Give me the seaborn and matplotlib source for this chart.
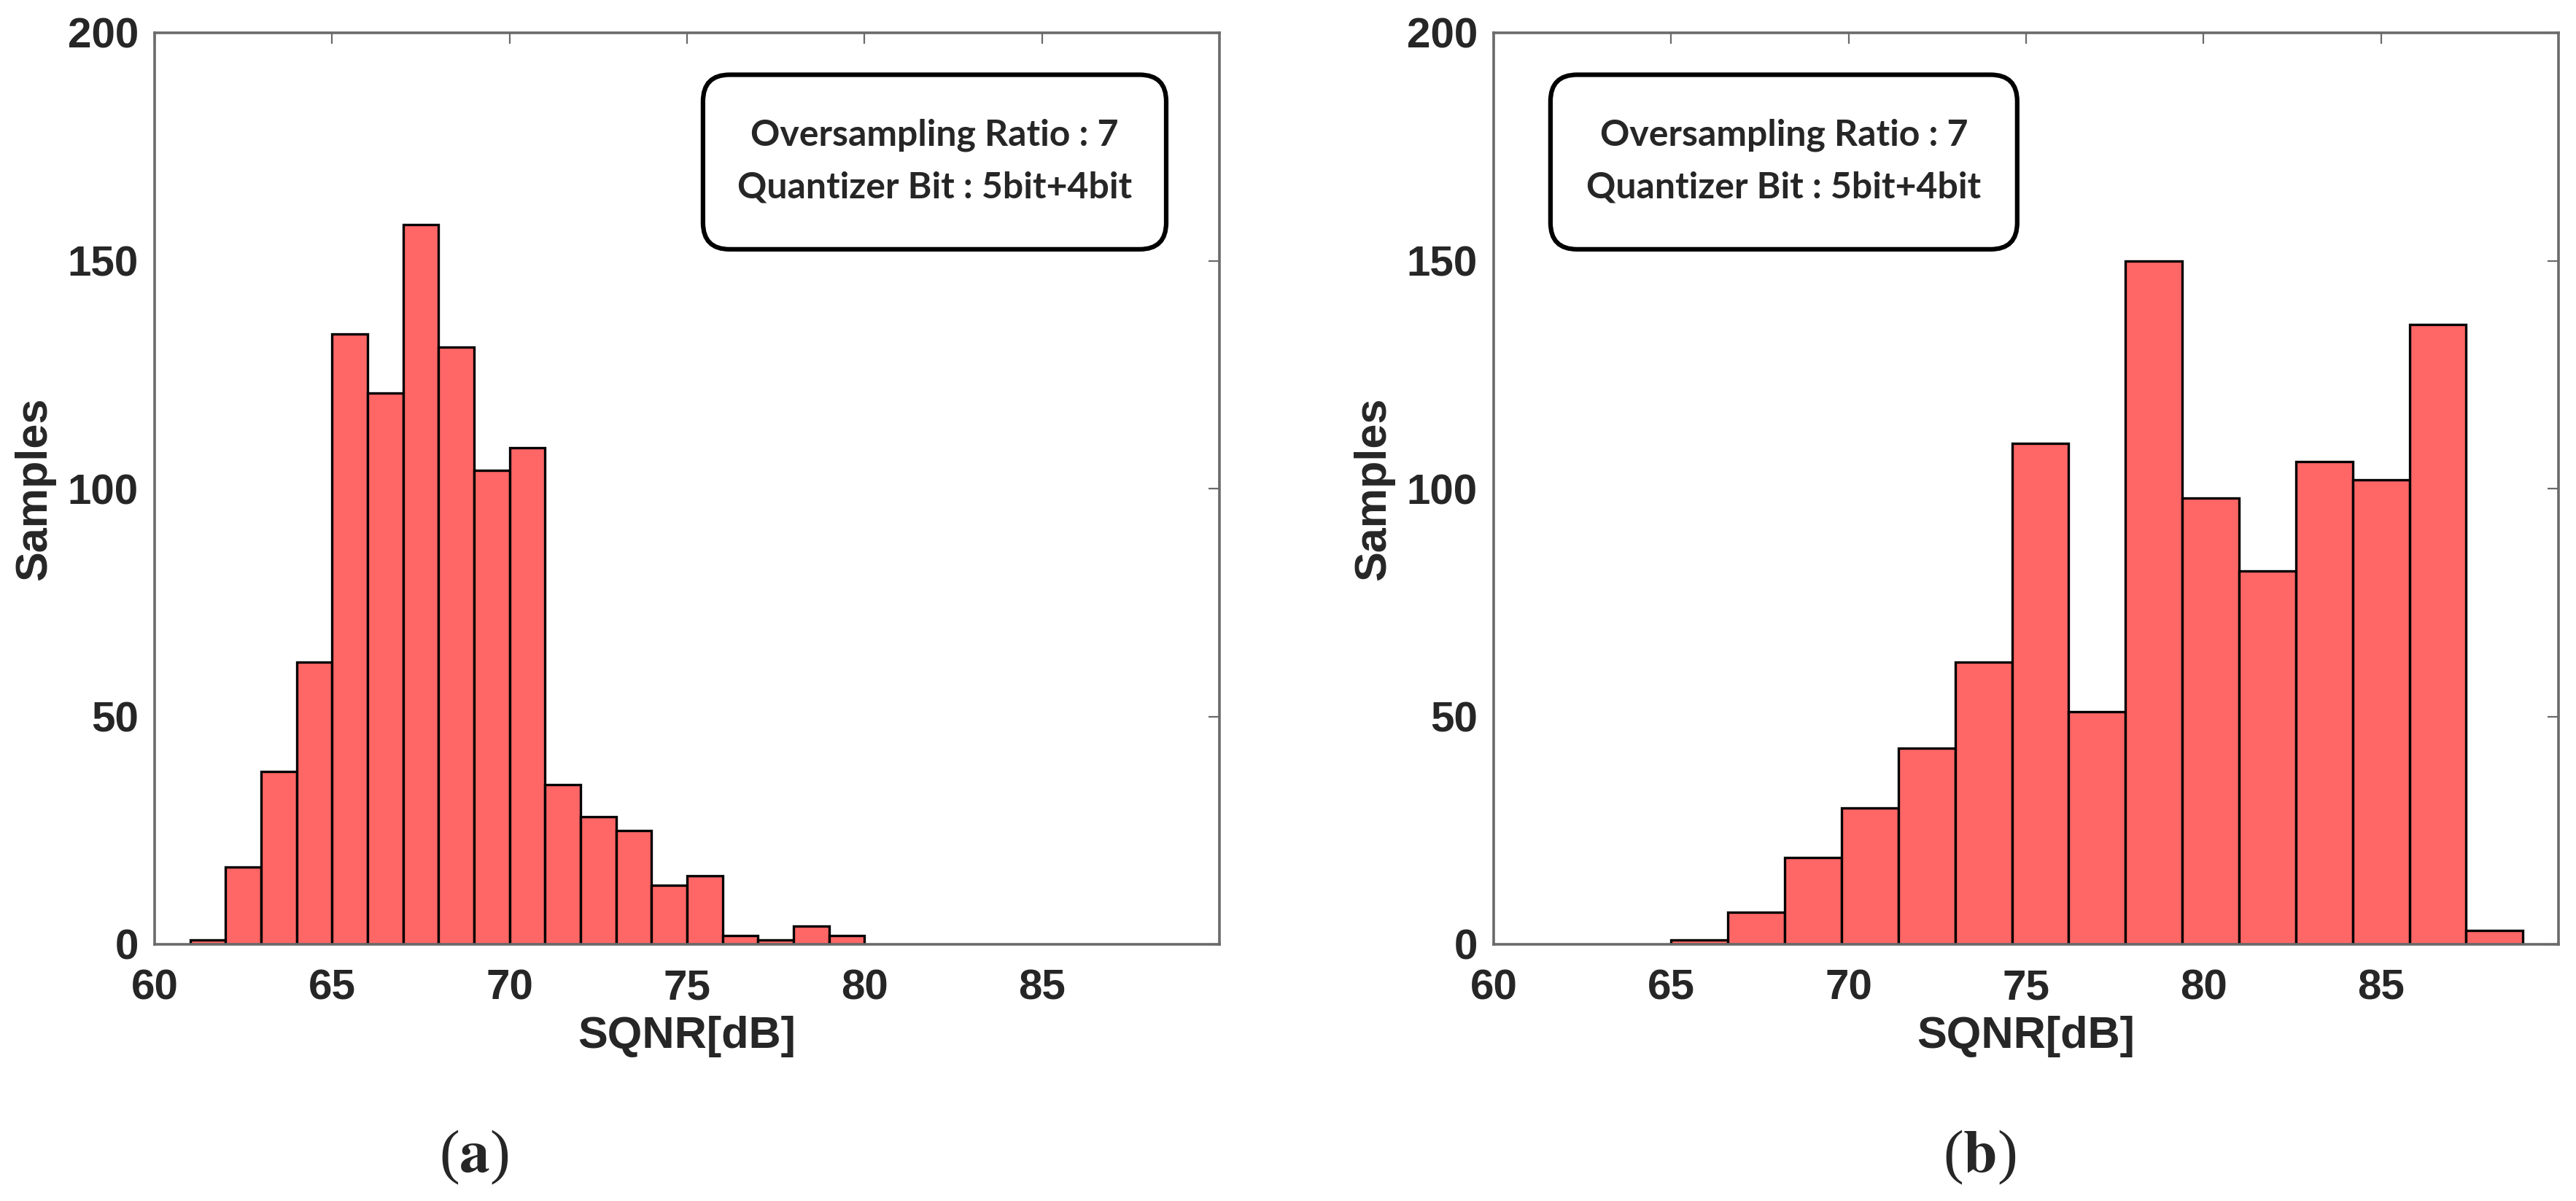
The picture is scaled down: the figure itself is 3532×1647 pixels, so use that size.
import matplotlib
matplotlib.use("Agg")
import matplotlib.pyplot as plt
import seaborn as sns
import numpy as np
import pandas as pd
from matplotlib.patches import FancyBboxPatch

# ---- data (1000 samples each) ----
edges_a = [61, 62, 63, 64, 65, 66, 67, 68, 69, 70, 71, 72, 73, 74, 75, 76, 77, 78, 79, 80]
counts_a = [1, 17, 38, 62, 134, 121, 158, 131, 104, 109, 35, 28, 25, 13, 15, 2, 1, 4, 2]

edges_b = [65.0, 66.6, 68.2, 69.8, 71.4, 73.0, 74.6, 76.2, 77.8, 79.4, 81.0, 82.6, 84.2, 85.8, 87.4, 89.0]
counts_b = [1, 7, 19, 30, 43, 62, 110, 51, 150, 98, 82, 106, 102, 136, 3]

x_ticks = [60, 65, 70, 75, 80, 85]
y_ticks = [0, 50, 100, 150, 200]
info_lines = ["Oversampling Ratio : 7", "Quantizer Bit : 5bit+4bit"]
panel_tags = ["a", "b"]

sns.set_style("white")
plt.rcParams['font.family'] = ['Liberation Sans', 'DejaVu Sans']
plt.rcParams['font.weight'] = 'bold'
plt.rcParams['mathtext.fontset'] = 'stix'

W, H = 3532, 1647
fig = plt.figure(figsize=(W / 100, H / 100), dpi=100)

BAR_COLOR = "#FF6666"
SPINE_COLOR = "#6a6a6a"


def draw_panel(ax, edges, counts, box_x):
    e = np.asarray(edges, dtype=float)
    df = pd.DataFrame({"sqnr": (e[:-1] + e[1:]) / 2, "n": counts})
    # bins passed as a plain list (seaborn compares it with "auto")
    sns.histplot(data=df, x="sqnr", weights="n", bins=list(edges), ax=ax,
                 color=BAR_COLOR, edgecolor="black", linewidth=2.4, alpha=1)

    ax.set_xlim(60, 90)
    ax.set_ylim(0, 200)
    ax.set_xticks(x_ticks)
    ax.set_yticks(y_ticks)
    ax.tick_params(axis='both', direction='in', length=11, width=1.6,
                   color=SPINE_COLOR, top=True, right=True, labelsize=42)
    ax.tick_params(axis='x', pad=24)
    ax.tick_params(axis='y', pad=16)
    for s in ax.spines.values():
        s.set_color(SPINE_COLOR)
        s.set_linewidth(2.6)

    ax.set_xlabel("SQNR[dB]", fontsize=44, fontweight='bold', labelpad=8)
    ax.set_ylabel("Samples", fontsize=44, fontweight='bold', labelpad=12)

    # rounded info box (mutation_aspect keeps the corners round in data units)
    x0, x1 = box_x
    y0, y1 = 152.5, 190.8
    box = FancyBboxPatch((x0, y0), x1 - x0, y1 - y0,
                         boxstyle="round,pad=0,rounding_size=0.75",
                         mutation_aspect=7.8, linewidth=4.5,
                         edgecolor="black", facecolor="white", zorder=5)
    ax.add_patch(box)
    xc = (x0 + x1) / 2
    ax.text(xc, 177.6, info_lines[0], ha='center', va='center', fontsize=36,
            fontweight='bold', family=['Lato', 'DejaVu Sans'], zorder=6)
    ax.text(xc, 166.0, info_lines[1], ha='center', va='center', fontsize=36,
            fontweight='bold', family=['Lato', 'DejaVu Sans'], zorder=6)


ax1 = fig.add_axes([212 / W, 1 - 1295 / H, 1460 / W, 1250 / H])
ax2 = fig.add_axes([2048 / W, 1 - 1295 / H, 1460 / W, 1250 / H])

draw_panel(ax1, edges_a, counts_a, (75.45, 88.5))
draw_panel(ax2, edges_b, counts_b, (61.6, 74.75))

for xpix, tag in zip([650, 2714], panel_tags):
    fig.text(xpix / W, 1 - 1587 / H, "($\\mathbf{" + tag + "}$)", ha='center', va='center',
             fontsize=60, family=['Liberation Serif', 'DejaVu Serif'], fontweight='normal')

fig.savefig("out.png", dpi=100, facecolor="white")
